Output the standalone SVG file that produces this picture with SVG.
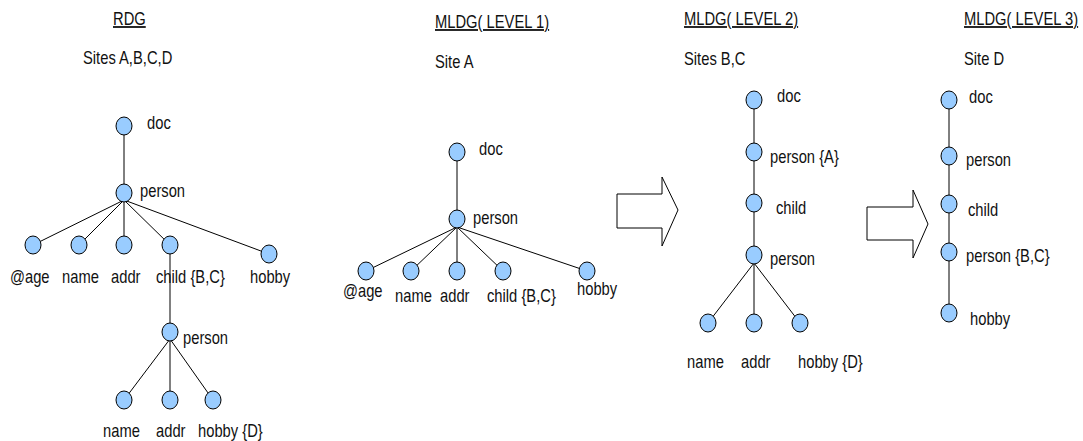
<svg xmlns="http://www.w3.org/2000/svg" width="1083" height="441" viewBox="0 0 1083 441">
<style>
text{font-family:"Liberation Sans",Arial,sans-serif;font-size:18px;fill:#111;transform-box:fill-box;transform-origin:0 0;transform:scaleX(0.82)}
.t{text-decoration:underline}
.n{fill:#99ccff;stroke:#000;stroke-width:1}
.e{stroke:#000;stroke-width:1;fill:none}
.g{stroke:#808080;stroke-width:2;fill:none}
.ar{fill:#fff;stroke:#000;stroke-width:1}
</style>
<rect width="1083" height="441" fill="#fff"/>
<g id="connectors">
<line class="e" x1="124" y1="126" x2="124" y2="193"/>
<line class="e" x1="124" y1="200" x2="33" y2="245"/>
<line class="e" x1="124" y1="200" x2="79" y2="245"/>
<line class="e" x1="124" y1="200" x2="124" y2="245"/>
<line class="e" x1="124" y1="200" x2="170" y2="245"/>
<line class="e" x1="124" y1="200" x2="269" y2="254"/>
<line class="g" x1="170" y1="245" x2="170" y2="332"/>
<line class="e" x1="170" y1="339" x2="124" y2="400"/>
<line class="g" x1="170" y1="339" x2="170" y2="400"/>
<line class="e" x1="170" y1="339" x2="213" y2="400"/>
<line class="e" x1="457" y1="152" x2="457" y2="219"/>
<line class="e" x1="457" y1="227" x2="366" y2="271"/>
<line class="e" x1="457" y1="227" x2="411" y2="271"/>
<line class="e" x1="457" y1="227" x2="457" y2="271"/>
<line class="e" x1="457" y1="227" x2="503" y2="271"/>
<line class="e" x1="457" y1="227" x2="587" y2="271"/>
<line class="e" x1="754" y1="100" x2="754" y2="255"/>
<line class="e" x1="754" y1="263" x2="708" y2="323"/>
<line class="e" x1="754" y1="263" x2="754" y2="323"/>
<line class="e" x1="754" y1="263" x2="800" y2="323"/>
<line class="e" x1="949" y1="100" x2="949" y2="313"/>
</g>
<g id="headers">
<text class="t" x="113" y="25">RDG</text>
<text x="83" y="64">Sites A,B,C,D</text>
<text class="t" x="435" y="28">MLDG( LEVEL 1)</text>
<text x="435" y="68">Site A</text>
<text class="t" x="684" y="25">MLDG( LEVEL 2)</text>
<text x="684" y="65">Sites B,C</text>
<text class="t" x="964" y="25">MLDG( LEVEL 3)</text>
<text x="964" y="65">Site D</text>
</g>
<g id="arrow1"><path class="ar" d="M617,194 H662 V177 L678,210 L662,246 V228 H617 Z"/></g>
<g id="arrow2"><path class="ar" d="M867,207 H913 V190 L928,224 L913,258 V240 H867 Z"/></g>
<g id="rdg-doc"><ellipse class="n" cx="124" cy="126" rx="8" ry="9"/><text x="147" y="129">doc</text></g>
<g id="rdg-person"><ellipse class="n" cx="124" cy="193" rx="8" ry="9"/><text x="140" y="197">person</text></g>
<g id="rdg-age"><ellipse class="n" cx="33" cy="245" rx="8" ry="9"/><text x="10" y="283">@age</text></g>
<g id="rdg-name"><ellipse class="n" cx="79" cy="245" rx="8" ry="9"/><text x="62" y="283">name</text></g>
<g id="rdg-addr"><ellipse class="n" cx="124" cy="245" rx="8" ry="9"/><text x="111" y="283">addr</text></g>
<g id="rdg-child"><ellipse class="n" cx="170" cy="245" rx="8" ry="9"/><text x="156" y="283">child {B,C}</text></g>
<g id="rdg-hobby"><ellipse class="n" cx="269" cy="254" rx="8" ry="9"/><text x="250" y="283">hobby</text></g>
<g id="rdg-person2"><ellipse class="n" cx="170" cy="332" rx="8" ry="9"/><text x="183" y="344">person</text></g>
<g id="rdg-name2"><ellipse class="n" cx="124" cy="400" rx="8" ry="9"/><text x="103" y="437">name</text></g>
<g id="rdg-addr2"><ellipse class="n" cx="170" cy="400" rx="8" ry="9"/><text x="156" y="437">addr</text></g>
<g id="rdg-hobby2"><ellipse class="n" cx="213" cy="400" rx="8" ry="9"/><text x="198" y="437">hobby {D}</text></g>
<g id="l1-doc"><ellipse class="n" cx="457" cy="152" rx="8" ry="9"/><text x="479" y="155">doc</text></g>
<g id="l1-person"><ellipse class="n" cx="457" cy="219" rx="8" ry="9"/><text x="473" y="224">person</text></g>
<g id="l1-age"><ellipse class="n" cx="366" cy="271" rx="8" ry="9"/><text x="343" y="297">@age</text></g>
<g id="l1-name"><ellipse class="n" cx="411" cy="271" rx="8" ry="9"/><text x="395" y="302">name</text></g>
<g id="l1-addr"><ellipse class="n" cx="457" cy="271" rx="8" ry="9"/><text x="440" y="302">addr</text></g>
<g id="l1-child"><ellipse class="n" cx="503" cy="271" rx="8" ry="9"/><text x="487" y="302">child {B,C}</text></g>
<g id="l1-hobby"><ellipse class="n" cx="587" cy="271" rx="8" ry="9"/><text x="577" y="295">hobby</text></g>
<g id="l2-doc"><ellipse class="n" cx="754" cy="100" rx="8" ry="9"/><text x="777" y="102">doc</text></g>
<g id="l2-personA"><ellipse class="n" cx="754" cy="152" rx="8" ry="9"/><text x="770" y="163">person {A}</text></g>
<g id="l2-child"><ellipse class="n" cx="754" cy="203" rx="8" ry="9"/><text x="776" y="214">child</text></g>
<g id="l2-person"><ellipse class="n" cx="754" cy="255" rx="8" ry="9"/><text x="770" y="265">person</text></g>
<g id="l2-name"><ellipse class="n" cx="708" cy="323" rx="8" ry="9"/><text x="687" y="368">name</text></g>
<g id="l2-addr"><ellipse class="n" cx="754" cy="323" rx="8" ry="9"/><text x="741" y="368">addr</text></g>
<g id="l2-hobby"><ellipse class="n" cx="800" cy="323" rx="8" ry="9"/><text x="798" y="368">hobby {D}</text></g>
<g id="l3-doc"><ellipse class="n" cx="949" cy="100" rx="8" ry="9"/><text x="969" y="103">doc</text></g>
<g id="l3-person"><ellipse class="n" cx="949" cy="156" rx="8" ry="9"/><text x="966" y="166">person</text></g>
<g id="l3-child"><ellipse class="n" cx="949" cy="204" rx="8" ry="9"/><text x="968" y="216">child</text></g>
<g id="l3-personBC"><ellipse class="n" cx="949" cy="252" rx="8" ry="9"/><text x="966" y="262">person {B,C}</text></g>
<g id="l3-hobby"><ellipse class="n" cx="949" cy="313" rx="8" ry="9"/><text x="970" y="325">hobby</text></g>
</svg>
